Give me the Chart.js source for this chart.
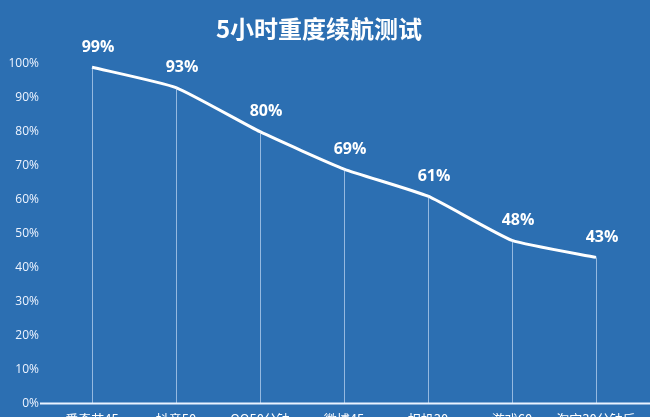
<!DOCTYPE html>
<html>
<head>
<meta charset="utf-8">
<script src="https://cdn.jsdelivr.net/npm/chart.js@4/dist/chart.umd.min.js"></script>
<style>
  html, body { margin: 0; padding: 0; background: #2c6fb2; overflow: hidden; }
  canvas { display: block; }
</style>
</head>
<body>
<canvas id="chart" width="650" height="435"></canvas>
<script>
const categories = ["爱奇艺45", "抖音50", "QQ50分钟", "微博45", "相机30", "游戏60", "淘宝30分钟后"];
const battery = [99, 93, 80, 69, 61, 48, 43];
const title = "5小时重度续航测试";

// thin vertical lines from each point down to the axis, plus the labels
const dropLines = {
  id: "dropLines",
  afterDatasetsDraw(chart) {
    const ctx = chart.ctx;
    const meta = chart.getDatasetMeta(0);
    const y = chart.scales.y;
    ctx.save();
    ctx.strokeStyle = "rgba(220,235,255,0.6)";
    ctx.lineWidth = 1;
    meta.data.forEach(pt => {
      ctx.beginPath();
      ctx.moveTo(Math.round(pt.x) + 0.5, pt.y);
      ctx.lineTo(Math.round(pt.x) + 0.5, y.getPixelForValue(0));
      ctx.stroke();
    });
    ctx.fillStyle = "#ffffff";
    ctx.font = "bold 16px 'Open Sans', 'Noto Sans', sans-serif";
    ctx.textAlign = "center";
    ctx.textBaseline = "middle";
    meta.data.forEach((pt, i) => {
      ctx.fillText(battery[i] + "%", pt.x + 6, pt.y - 20);
    });
    // x axis line
    const yb = y.getPixelForValue(0);
    ctx.strokeStyle = "#eaf3ff";
    ctx.lineWidth = 2;
    ctx.beginPath();
    ctx.moveTo(40, yb);
    ctx.lineTo(chart.width, yb);
    ctx.stroke();
    ctx.restore();
  }
};

new Chart(document.getElementById("chart"), {
  type: "line",
  data: {
    labels: categories,
    datasets: [{
      data: battery,
      borderColor: "#ffffff",
      borderWidth: 3,
      tension: 0.15,
      pointRadius: 0,
      fill: false
    }]
  },
  options: {
    responsive: false,
    animation: false,
    layout: { padding: { left: 0, right: 12, top: 0, bottom: 0 } },
    plugins: {
      legend: { display: false },
      tooltip: { enabled: false },
      title: {
        display: true,
        text: title,
        color: "#ffffff",
        font: { size: 24, weight: "bold", family: "'Noto Sans CJK SC', sans-serif" },
        padding: { top: 14, bottom: 21 }
      }
    },
    scales: {
      x: {
        offset: true,
        grid: { display: false, drawTicks: false },
        border: { display: false },
        afterFit: s => { s.paddingLeft = 0; s.paddingRight = 0; },
        ticks: {
          color: "#ffffff",
          padding: 8,
          maxRotation: 0,
          minRotation: 0,
          autoSkip: false,
          font: { size: 13, family: "'Noto Sans CJK SC', sans-serif" }
        }
      },
      y: {
        min: 0,
        max: 100,
        grid: { display: false, drawTicks: false },
        border: { display: false },
        afterFit: s => { s.width = 50; },
        ticks: {
          stepSize: 10,
          padding: 11,
          color: "#eef4ff",
          font: { size: 12, family: "'Open Sans', sans-serif" },
          callback: v => v + "%"
        }
      }
    }
  },
  plugins: [dropLines]
});
</script>
</body>
</html>
